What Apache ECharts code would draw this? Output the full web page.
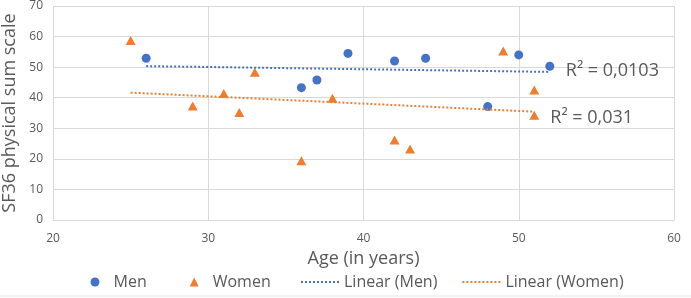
<!DOCTYPE html>
<html><head><meta charset="utf-8">
<script src="https://cdn.jsdelivr.net/npm/echarts@6/dist/echarts.min.js"></script>
<style>html,body{margin:0;padding:0;background:#fff}#c{width:691px;height:298px}</style>
</head><body><div id="c"></div>
<script>
const menAge=[26,36,37,39,42,44,48,50,52];
const menScore=[52.9,43.3,45.8,54.5,52.0,52.9,37.1,54.0,50.3];
const womenAge=[25,29,31,32,33,36,38,42,43,49,51,51];
const womenScore=[58.7,37.3,41.4,35.2,48.3,19.4,39.8,26.2,23.2,55.3,42.5,34.3];
const seriesNames=['Men','Women','Linear (Men)','Linear (Women)'];
const r2Labels=['R² = 0,0103','R² = 0,031'];
const xTicks={min:20,max:60,interval:10};
const yTicks={min:0,max:70,interval:10};
const axisNames={x:'Age (in years)',y:'SF36 physical sum scale'};

function pairs(xs,ys){return xs.map((x,i)=>[x,ys[i]]);}
function trend(xs,ys){
  const n=xs.length, mx=xs.reduce((a,b)=>a+b,0)/n, my=ys.reduce((a,b)=>a+b,0)/n;
  let sxy=0,sxx=0;for(let i=0;i<n;i++){sxy+=(xs[i]-mx)*(ys[i]-my);sxx+=(xs[i]-mx)**2;}
  const b=sxy/sxx,a=my-b*mx;const x0=Math.min(...xs),x1=Math.max(...xs);
  return [[x0,a+b*x0],[x1,a+b*x1]];
}
const blue='#4472C4',orange='#ED7D31',txt='#595959',grid='#d9d9d9';
const font='"Open Sans", sans-serif';
const chart=echarts.init(document.getElementById('c'));
chart.setOption({
  animation:false,
  textStyle:{fontFamily:font},
  grid:{left:53,right:17,top:6,bottom:78,containLabel:false,outerBoundsMode:'none'},
  xAxis:{type:'value',min:xTicks.min,max:xTicks.max,interval:xTicks.interval,
    name:axisNames.x,nameLocation:'middle',nameGap:20.5,
    nameTextStyle:{color:txt,fontSize:18,fontFamily:font},
    axisLine:{show:true,lineStyle:{color:grid}},axisTick:{show:false},
    axisLabel:{color:txt,fontSize:12,margin:13,fontFamily:font},
    splitLine:{show:true,lineStyle:{color:grid}}},
  yAxis:{type:'value',min:yTicks.min,max:yTicks.max,interval:yTicks.interval,
    name:axisNames.y,nameLocation:'middle',nameGap:26.5,
    nameTextStyle:{color:txt,fontSize:18,fontFamily:font},
    axisLine:{show:false},axisTick:{show:false},
    axisLabel:{color:txt,fontSize:12,margin:10,fontFamily:font},
    splitLine:{show:true,lineStyle:{color:grid}}},
  legend:[
    {left:85.5,top:269,itemWidth:9,itemHeight:9,itemGap:43,
     textStyle:{color:txt,fontSize:16,fontFamily:font,padding:[0,0,0,9]},
     data:[{name:seriesNames[0],icon:'circle'},{name:seriesNames[1],icon:'triangle'}]},
    {left:295,top:269,itemWidth:38,itemHeight:9,itemGap:24,
     itemStyle:{opacity:0},
     textStyle:{color:txt,fontSize:16,fontFamily:font},
     data:[seriesNames[2],seriesNames[3]]}
  ],
  series:[
    {name:seriesNames[0],type:'scatter',symbol:'circle',symbolSize:9,itemStyle:{color:blue,opacity:1},data:pairs(menAge,menScore)},
    {name:seriesNames[1],type:'scatter',symbol:'triangle',symbolSize:[10,9],itemStyle:{color:orange,opacity:1},data:pairs(womenAge,womenScore)},
    {name:seriesNames[2],type:'line',symbol:'none',lineStyle:{color:blue,width:2,type:[2,2]},itemStyle:{color:blue},
      data:trend(menAge,menScore),
      endLabel:{show:true,formatter:r2Labels[0],color:txt,fontSize:18,fontFamily:font,offset:[8,-1]}},
    {name:seriesNames[3],type:'line',symbol:'none',lineStyle:{color:orange,width:2,type:[2,2]},itemStyle:{color:orange},
      data:trend(womenAge,womenScore),
      endLabel:{show:true,formatter:r2Labels[1],color:txt,fontSize:18,fontFamily:font,offset:[8,6]}}
  ],
  graphic:[{type:'line',shape:{x1:0,y1:296,x2:691,y2:296},style:{stroke:'#e6e6e6',lineWidth:1}}]
});
</script></body></html>
